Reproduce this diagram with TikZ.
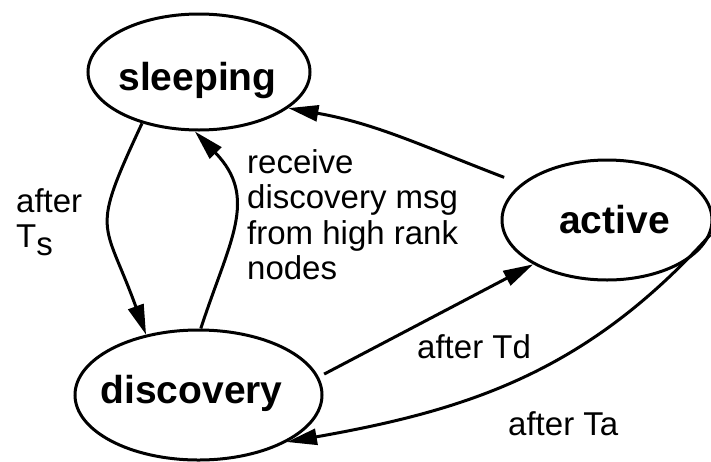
\documentclass[tikz,border=0pt]{standalone}
\usepackage{fontspec}
\setmainfont{Liberation Sans}
\usetikzlibrary{arrows.meta,shapes.geometric}
% state name: zero-size box, shifted by (#1, #2) from the ellipse centre
\newcommand{\statetext}[3]{\makebox[0pt][l]{\kern#1\makebox[0pt]{\raisebox{#2}[0pt][0pt]{#3}}}}
\begin{document}
\begin{tikzpicture}[x=1pt,y=-1pt,
  state/.style={ellipse, draw, line width=3pt, inner sep=0pt,
    font=\fontsize{39}{39}\selectfont\bfseries},
  trans/.style={line width=3pt, -{Triangle[length=30pt,width=16pt]}},
  lbl/.style={inner sep=0pt, font=\fontsize{33}{35.5}\selectfont}]
\useasboundingbox (0,0) rectangle (711,461);

% states
\node[state, minimum width=222pt, minimum height=116pt] (sleeping) at (199,72)
  {\statetext{-1.5pt}{-18pt}{sleeping}};
\node[state, minimum width=247pt, minimum height=130pt] (discovery) at (198.5,395)
  {\statetext{-7pt}{-8pt}{discovery}};
\node[state, minimum width=210pt, minimum height=120pt] (active) at (607,220)
  {\statetext{7.5pt}{-13pt}{active}};

% transitions
\draw[trans] (sleeping.222) to[out=245,in=110,looseness=1.5] (discovery.131);
\draw[trans] (discovery.88) to[out=72,in=314,looseness=1.2] (sleeping.266);
\draw[trans] ([shift={(-20,-4)}]active.155) to[out=159,in=-10] (sleeping.-22);
\draw[trans] ([xshift=7pt]discovery.10) -- (active.211);
\draw[trans] (active.-8) to[out=228,in=10] (discovery.-28);

% transition labels
\node[lbl, align=left, anchor=north west] (lblTs) at (16,188)
  {after\\T\raisebox{-8pt}{s}};
\node[lbl, align=left, anchor=north west] (lblRecv) at (247,149)
  {receive\\discovery msg\\from high rank\\nodes};
\node[lbl, anchor=base west] (lblTd) at (417,358) {after Td};
\node[lbl, anchor=base west] (lblTa) at (508,435) {after Ta};
\end{tikzpicture}
\end{document}
